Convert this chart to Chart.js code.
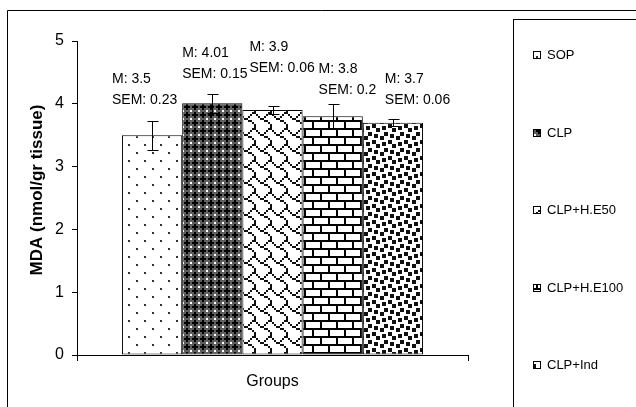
<!DOCTYPE html>
<html>
<head>
<meta charset="utf-8">
<title>MDA by group</title>
<script src="https://cdn.jsdelivr.net/npm/chart.js@4.4.0/dist/chart.umd.min.js"></script>
<style>
    html, body { margin: 0; padding: 0; background: #fff; }
    canvas { display: block; }
</style>
</head>
<body>
<canvas id="mdaChart" width="636" height="407"></canvas>
<script>
// Chart data
const categories = ['Groups'];
const groupNames = ['SOP', 'CLP', 'CLP+H.E50', 'CLP+H.E100', 'CLP+Ind'];
const meanValues = [3.5, 4.01, 3.9, 3.8, 3.7];
const semValues = [0.23, 0.15, 0.06, 0.2, 0.06];
const yTicks = [0, 1, 2, 3, 4, 5];

const FONT = "'Liberation Sans', Arial, sans-serif";
const canvas = document.getElementById('mdaChart');
const ctx = canvas.getContext('2d');

// 8-pixel wide bitmap -> repeating canvas pattern
function bitmapPattern(rows, scale, ink) {
    const c = document.createElement('canvas');
    c.width = 8 * scale;
    c.height = rows.length * scale;
    const g = c.getContext('2d');
    g.fillStyle = '#fff';
    g.fillRect(0, 0, c.width, c.height);
    g.fillStyle = ink;
    rows.forEach((bits, y) => {
        for (let x = 0; x < 8; x++) {
            if (bits & (0x80 >> x)) g.fillRect(x * scale, y * scale, scale, scale);
        }
    });
    return ctx.createPattern(c, 'repeat');
}

// dark trellis used for CLP
function trellisPattern() {
    const c = document.createElement('canvas');
    c.width = 8; c.height = 8;
    const g = c.getContext('2d');
    g.fillStyle = '#5e5e5e';
    g.fillRect(0, 0, 8, 8);
    g.fillStyle = '#000';
    g.fillRect(2, 0, 2, 6);
    g.fillRect(0, 2, 6, 2);
    g.fillStyle = '#fff';
    g.fillRect(6, 6, 2, 2);
    return ctx.createPattern(c, 'repeat');
}

const patterns = [
    bitmapPattern([0x80, 0, 0, 0, 0x08, 0, 0, 0], 2, '#333'),                 // dots
    trellisPattern(),                                                          // trellis
    bitmapPattern([0x03, 0x84, 0x48, 0x30, 0x0c, 0x02, 0x01, 0x01], 2, '#111'), // shingle
    bitmapPattern([0xff, 0x80, 0x80, 0x80, 0xff, 0x08, 0x08, 0x08], 2, '#000'), // brick
    bitmapPattern([0x8d, 0x0c, 0xc0, 0xd8, 0x1b, 0x03, 0x30, 0xb1], 2, '#111')  // confetti
];

// where the M / SEM text sits relative to bar left and error bar top
const labelOffsets = [
    { dx: -10, dy: -21 },
    { dx: 0, dy: -20 },
    { dx: 7, dy: -38 },
    { dx: 16, dy: -14 },
    { dx: 22, dy: -19 }
];

const decorPlugin = {
    id: 'decor',
    beforeDraw(chart) {
        const c = chart.ctx;
        c.save();
        c.strokeStyle = '#000';
        c.lineWidth = 1;
        c.beginPath();
        c.moveTo(7.5, 407);
        c.lineTo(7.5, 10.5);
        c.lineTo(636, 10.5);
        c.stroke();
        c.restore();
    },
    afterDatasetsDraw(chart) {
        const c = chart.ctx;
        const y = chart.scales.y;
        c.save();
        c.strokeStyle = '#000';
        c.lineWidth = 1;
        c.fillStyle = '#000';
        c.font = '14px ' + FONT;
        c.textAlign = 'left';
        c.textBaseline = 'middle';
        meanValues.forEach((m, i) => {
            const bar = chart.getDatasetMeta(i).data[0];
            const x = Math.round(bar.x) + 0.5;
            const top = y.getPixelForValue(m + semValues[i]);
            const bot = y.getPixelForValue(m - semValues[i]);
            c.beginPath();
            c.moveTo(x, Math.round(bot) + 0.5);
            c.lineTo(x, Math.round(top) + 0.5);
            c.moveTo(x - 5, Math.round(top) + 0.5);
            c.lineTo(x + 6, Math.round(top) + 0.5);
            c.moveTo(x - 5, Math.round(bot) + 0.5);
            c.lineTo(x + 6, Math.round(bot) + 0.5);
            c.stroke();

            const left = bar.x - bar.width / 2 + labelOffsets[i].dx;
            const semY = top + labelOffsets[i].dy;
            c.fillText('M: ' + m, left, semY - 21);
            c.fillText('SEM: ' + semValues[i], left, semY);
        });
        c.restore();
    },
    afterDraw(chart) {
        const c = chart.ctx;
        c.save();
        // y axis title
        c.fillStyle = '#000';
        c.font = 'bold 17px ' + FONT;
        c.textAlign = 'center';
        c.textBaseline = 'middle';
        c.translate(37, 190);
        c.rotate(-Math.PI / 2);
        c.fillText('MDA (nmol/gr tissue)', 0, 0);
        c.restore();

        // legend box
        c.save();
        c.strokeStyle = '#000';
        c.lineWidth = 1;
        c.strokeRect(513.5, 19.5, 200, 500);
        c.font = '13px ' + FONT;
        c.textAlign = 'left';
        c.textBaseline = 'middle';
        groupNames.forEach((name, i) => {
            const cy = Math.round(55 + i * 77.5);
            c.fillStyle = patterns[i];
            c.fillRect(533, cy - 4, 7, 7);
            c.strokeRect(533.5, cy - 3.5, 7, 7);
            c.fillStyle = '#000';
            c.fillText(name, 547, cy);
        });
        c.restore();
    }
};

new Chart(ctx, {
    type: 'bar',
    data: {
        labels: categories,
        datasets: groupNames.map((name, i) => ({
            label: name,
            data: [meanValues[i]],
            backgroundColor: patterns[i],
            borderColor: '#000',
            borderWidth: 1,
            borderSkipped: false,
            categoryPercentage: 0.77,
            barPercentage: 1.0
        }))
    },
    options: {
        responsive: false,
        animation: false,
        layout: { padding: { top: 41, right: 168, bottom: 0, left: 0 } },
        plugins: {
            legend: { display: false },
            tooltip: { enabled: false }
        },
        scales: {
            x: {
                grid: { display: true, drawOnChartArea: false, color: '#000', tickLength: 6 },
                border: { color: '#000' },
                ticks: { color: '#000', font: { family: FONT, size: 16 }, padding: 11 },
                afterFit: s => { s.height = 52; }
            },
            y: {
                min: 0,
                max: 5,
                afterBuildTicks: s => { s.ticks = yTicks.map(v => ({ value: v })); },
                ticks: { color: '#000', font: { family: FONT, size: 16 }, padding: 8 },
                grid: { drawOnChartArea: false, color: '#000', tickLength: 5 },
                border: { color: '#000' },
                afterFit: s => { s.width = 77; }
            }
        }
    },
    plugins: [decorPlugin]
});
</script>
</body>
</html>
